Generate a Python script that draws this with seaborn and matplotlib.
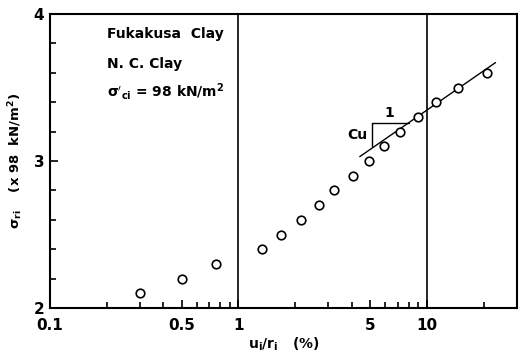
import seaborn as sns
import pandas as pd
import matplotlib.pyplot as plt
from matplotlib.ticker import FixedLocator, NullFormatter

# strain u_i/r_i (%) and normalised stress sigma_ri (x 98 kN/m2)
strain = [0.3, 0.5, 0.76, 1.33, 1.69, 2.15, 2.67, 3.23, 4.05, 4.9, 5.9, 7.2, 9.0, 11.2, 14.6, 20.9]
stress = [2.1, 2.2, 2.3, 2.4, 2.5, 2.6, 2.7, 2.8, 2.9, 3.0, 3.1, 3.2, 3.3, 3.4, 3.5, 3.6]

# fitted straight line and slope triangle
fit_x = [4.4, 23.1]
fit_y = [3.03, 3.67]
tri_x = [5.08, 5.08, 8.04]
tri_y = [3.10, 3.26, 3.26]

x_ticks = [0.1, 0.5, 1, 5, 10]
x_tick_labels = ["0.1", "0.5", "1", "5", "10"]
y_ticks = [2, 3, 4]

df = pd.DataFrame({"strain": strain, "stress": stress})
fit_df = pd.DataFrame({"x": fit_x, "y": fit_y})

sns.set_style("ticks")
plt.rcParams["font.family"] = ["DejaVu Sans"]
plt.rcParams["font.weight"] = "bold"
plt.rcParams["mathtext.default"] = "bf"
plt.rcParams["text.color"] = "black"
plt.rcParams["axes.labelcolor"] = "black"
plt.rcParams["xtick.color"] = "black"
plt.rcParams["ytick.color"] = "black"
plt.rcParams["axes.edgecolor"] = "black"

fig = plt.figure(figsize=(5.19, 3.52), dpi=100)
ax = fig.add_axes([0.0963, 0.125, 0.8997, 0.835])

sns.lineplot(data=fit_df, x="x", y="y", ax=ax, color="black", lw=1.0)
sns.scatterplot(data=df, x="strain", y="stress", ax=ax, marker="o", s=38,
                facecolor="white", edgecolor="black", linewidth=1.2, zorder=3)
ax.plot(tri_x, tri_y, color="black", lw=1.0)
ax.text(6.3, 3.28, "1", fontsize=10, ha="center", va="bottom")
ax.text(4.85, 3.18, "Cu", fontsize=10, ha="right", va="center")

ax.set_xscale("log")
ax.set_xlim(0.1, 30)
ax.set_ylim(2, 4)

for xv in [1, 10]:
    ax.axvline(xv, color="black", lw=1.2)

ax.xaxis.set_major_locator(FixedLocator(x_ticks))
ax.set_xticklabels(x_tick_labels)
ax.xaxis.set_minor_locator(FixedLocator([0.2, 0.3, 0.4, 0.6, 0.7, 0.8, 0.9,
                                         2, 3, 4, 6, 7, 8, 9, 20]))
ax.xaxis.set_minor_formatter(NullFormatter())
ax.set_yticks(y_ticks)
ax.set_yticks([2.2, 2.4, 2.6, 2.8, 3.2, 3.4, 3.6, 3.8], minor=True)

ax.tick_params(which="both", direction="in", labelsize=11, width=1.2)
ax.tick_params(which="major", length=6)
ax.tick_params(which="minor", length=4)
ax.tick_params(axis="x", pad=7)
ax.tick_params(axis="y", pad=4)
for s in ax.spines.values():
    s.set_linewidth(1.5)

ax.set_xlabel(r"u$_i$/r$_i$   (%)", fontsize=10, fontweight="bold", labelpad=2)
ax.set_ylabel(r"$\sigma_{ri}$    (x 98  kN/m$^2$)", fontsize=9.5, fontweight="bold", labelpad=6)

ax.text(0.20, 3.84, "Fukakusa  Clay", fontsize=10)
ax.text(0.20, 3.63, "N. C. Clay", fontsize=10)
ax.text(0.20, 3.44, r"$\sigma'_{ci}$ = 98 kN/m$^2$", fontsize=10)

fig.savefig("out.png", dpi=100)
plt.close()
